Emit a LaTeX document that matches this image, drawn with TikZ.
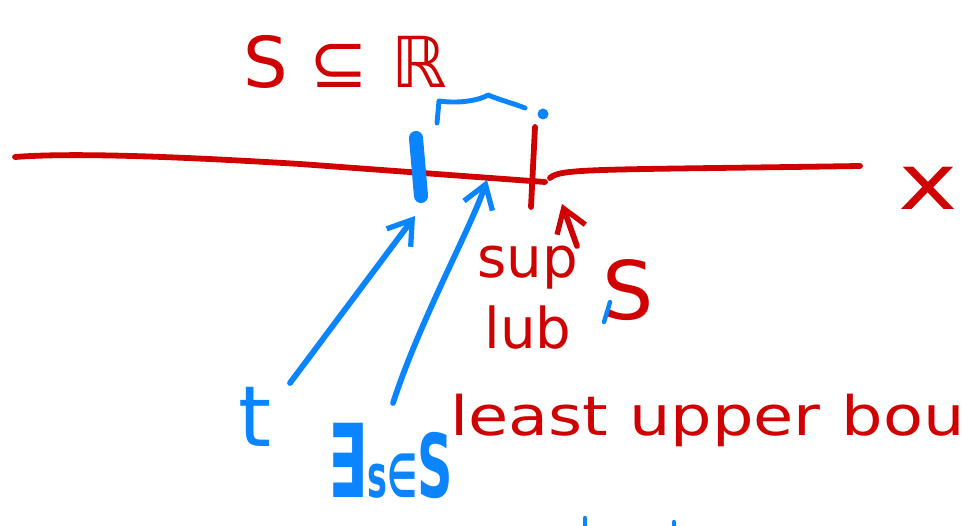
\documentclass[tikz,border=0pt]{standalone}
\usepackage{fontspec}
\setmainfont{DejaVu Sans}
\usetikzlibrary{arrows.meta}
\definecolor{pred}{HTML}{D00000}
\definecolor{pblue}{HTML}{0A84FF}
\begin{document}
\begin{tikzpicture}[x=0.02cm,y=-0.02cm,
  redink/.style={draw=pred, line width=3.3pt, line cap=round, line join=round},
  blueink/.style={draw=pblue, line width=3.3pt, line cap=round, line join=round},
  barb/.style={-{Straight Barb[length=4.5mm,width=6mm,line width=3pt]}},
  rtext/.style={text=pred, inner sep=0pt, anchor=center},
  btext/.style={text=pblue, inner sep=0pt, anchor=center}]
\useasboundingbox (0,0) rectangle (963,526);
\clip (0,0) rectangle (963,526);
\fill[white] (0,0) rectangle (963,526);

% real line
\coordinate (l0) at (15,157);
\coordinate (l1) at (545,182);
\coordinate (r0) at (550,178);
\coordinate (r1) at (860,166);
\draw[redink] (l0) .. controls (80,152) and (200,158) .. (300,164) -- (l1);
\draw[redink] (r0) .. controls (560,168) and (600,170) .. (r1);

% sup tick
\coordinate (k0) at (535,127);
\coordinate (k1) at (531,207);
\draw[redink] (k0) -- (k1);
\fill[pblue] (543,114) circle (5.5);

% blue bracket mark
\coordinate (b0) at (416,138);
\coordinate (b1) at (421,196);
\draw[draw=pblue, line width=8pt, line cap=round] (b0) -- (b1);
\draw[blueink, line width=2.8pt] (437,123) -- (439,101) .. controls (460,104) and (480,100) .. (488,95) .. controls (500,100) and (515,104) .. (525,108);

% arrows
\coordinate (t0) at (290,383);
\coordinate (t1) at (415,216);
\coordinate (s0) at (393,403);
\coordinate (s1) at (487,180);
\coordinate (u0) at (577,246);
\coordinate (u1) at (562,204);
\draw[blueink, barb] (t0) -- (t1);
\draw[blueink, barb] (s0) .. controls (420,320) and (470,230) .. (s1);
\draw[redink, barb] (u0) -- (u1);

% texts
\node[rtext, font=\fontsize{40}{40}\selectfont] (set) at (345,62) {S ⊆ ℝ};
\node[rtext, font=\fontsize{44}{44}\selectfont, xscale=1.3] (x) at (928,188) {x};
\node[rtext, font=\fontsize{32}{32}\selectfont] (sup) at (528,268) {sup};
\node[rtext, font=\fontsize{32}{32}\selectfont] (lub) at (528,328) {lub};
\node[rtext, font=\fontsize{46}{46}\selectfont] (S) at (628,290) {S};
\draw[draw=pblue, line width=2.5pt, line cap=round] (604,322) -- (610,302);
\node[btext, font=\fontsize{48}{48}\selectfont] (t) at (255,417) {t};
\node[rtext, font=\fontsize{31}{31}\selectfont, anchor=west, xscale=1.2] (lub2) at (450,420) {least upper bou};
\node[btext, font=\bfseries, xscale=0.56, anchor=base west] (ex) at (328,498)
  {{\fontsize{58}{58}\selectfont ∃}{\fontsize{34}{34}\selectfont s∈}{\fontsize{50}{50}\selectfont S}};
% cut-off marks at bottom
\draw[blueink, line width=2.5pt] (585,518) -- (585,530);
\draw[blueink, line width=2.5pt] (674,522) -- (674,530);
\end{tikzpicture}
\end{document}
